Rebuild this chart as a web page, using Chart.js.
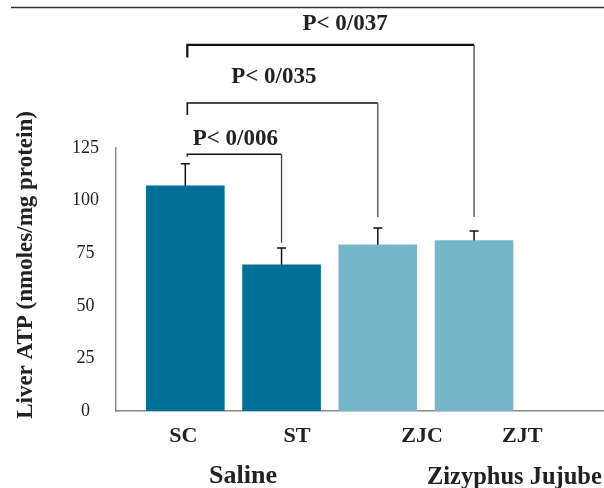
<!DOCTYPE html>
<html>
<head>
<meta charset="utf-8">
<script src="https://cdn.jsdelivr.net/npm/chart.js@4.4.1/dist/chart.umd.min.js"></script>
<style>
  html, body { margin: 0; padding: 0; background: #fff; }
  #wrap { width: 604px; height: 488px; }
</style>
</head>
<body>
<div id="wrap"><canvas id="chart"></canvas></div>
<script>
// data
const categories = ["SC", "ST", "ZJC", "ZJT"];
const atpMeans = [107, 69.5, 79, 81];
const atpErrors = [10.5, 8, 8, 4.5];
const groupLabels = ["Saline", "Zizyphus Jujube"];
const yTicks = [0, 25, 50, 75, 100, 125];
const pLabels = ["P< 0/006", "P< 0/035", "P< 0/037"];
const yTitle = "Liver ATP (nmoles/mg protein)";

const barColors = ["#007096", "#007096", "#76b6ca", "#76b6ca"];
const serif = "'Liberation Serif', 'DejaVu Serif', serif";

// where the texts and brackets sit, in axis units
const tickLabelX = [-0.02, 1.16, 2.46, 3.5];
const groupLabelX = [0.6, 2.51];
const brackets = [
  { from: 0, to: 1, level: 122, leftEnd: 121, rightEnd: 80, labelX: 0.52, labelY: 129.3 },
  { from: 0, to: 2, level: 146.4, leftEnd: 140.7, rightEnd: 92.2, labelX: 0.92, labelY: 158.7 },
  { from: 0, to: 3, level: 174, leftEnd: 168, rightEnd: 92.2, labelX: 1.66, labelY: 183.9 }
];

const extras = {
  id: "extras",
  afterDatasetsDraw(chart) {
    const ctx = chart.ctx;
    const xs = chart.scales.x;
    const ys = chart.scales.y;
    ctx.save();

    // top rule
    ctx.strokeStyle = "#333";
    ctx.lineWidth = 1.5;
    ctx.beginPath();
    ctx.moveTo(11, 7.5);
    ctx.lineTo(604, 7.5);
    ctx.stroke();

    // error bars (upper only)
    ctx.strokeStyle = "#111";
    ctx.lineWidth = 1.5;
    atpMeans.forEach((v, i) => {
      const x = xs.getPixelForValue(i);
      const y0 = ys.getPixelForValue(v);
      const y1 = ys.getPixelForValue(v + atpErrors[i]);
      ctx.beginPath();
      ctx.moveTo(x, y0);
      ctx.lineTo(x, y1);
      ctx.moveTo(x - 4.5, y1);
      ctx.lineTo(x + 4.5, y1);
      ctx.stroke();
    });

    // significance brackets
    ctx.fillStyle = "#222";
    ctx.font = "bold 23px " + serif;
    ctx.textAlign = "center";
    ctx.textBaseline = "middle";
    brackets.forEach((b, k) => {
      const xl = xs.getPixelForValue(b.from) + 2;
      const xr = xs.getPixelForValue(b.to);
      const yl = ys.getPixelForValue(b.level);
      ctx.strokeStyle = "#111";
      ctx.lineWidth = k === 2 ? 2.2 : 1.6;
      ctx.beginPath();
      ctx.moveTo(xl, ys.getPixelForValue(b.leftEnd));
      ctx.lineTo(xl, yl);
      ctx.lineTo(xr, yl);
      ctx.stroke();
      ctx.strokeStyle = "#444";
      ctx.lineWidth = 1.3;
      ctx.beginPath();
      ctx.moveTo(xr, yl);
      ctx.lineTo(xr, ys.getPixelForValue(b.rightEnd));
      ctx.stroke();
      ctx.fillText(pLabels[k], xs.getPixelForValue(b.labelX), ys.getPixelForValue(b.labelY));
    });

    // category labels
    ctx.font = "bold 22px " + serif;
    categories.forEach((c, i) => {
      ctx.fillText(c, xs.getPixelForValue(tickLabelX[i]), 436);
    });

    // group labels
    ctx.font = "bold 26px " + serif;
    ctx.fillText(groupLabels[0], xs.getPixelForValue(groupLabelX[0]), 476);
    ctx.textAlign = "left";
    ctx.font = "bold 24.5px " + serif;
    ctx.fillText(groupLabels[1], xs.getPixelForValue(groupLabelX[1]), 478);

    // y axis title
    ctx.save();
    ctx.translate(26, 265);
    ctx.rotate(-Math.PI / 2);
    ctx.textAlign = "center";
    ctx.font = "bold 23px " + serif;
    ctx.fillText(yTitle, 0, 0);
    ctx.restore();

    ctx.restore();
  }
};

new Chart(document.getElementById("chart"), {
  type: "bar",
  data: {
    datasets: [{
      label: "Liver ATP",
      data: categories.map((c, i) => ({ x: i, y: atpMeans[i] })),
      backgroundColor: barColors,
      borderWidth: 0,
      barThickness: 78
    }]
  },
  options: {
    responsive: true,
    maintainAspectRatio: false,
    animation: false,
    layout: { padding: { top: 148, left: 0, right: 0, bottom: 0 } },
    plugins: {
      legend: { display: false },
      tooltip: { enabled: false }
    },
    scales: {
      x: {
        type: "linear",
        offset: false,
        min: -0.72,
        max: 4.35,
        grid: { display: false, drawTicks: false },
        border: { color: "#8a8a8a", width: 1.5 },
        ticks: { display: false },
        afterFit: (s) => { s.height = 77; }
      },
      y: {
        min: 0,
        max: 125,
        afterBuildTicks: (s) => { s.ticks = yTicks.map(v => ({ value: v })); },
        grid: { display: false, drawTicks: false },
        border: { color: "#8a8a8a", width: 1.5 },
        ticks: {
          crossAlign: "center",
          padding: 17,
          color: "#222",
          font: { family: serif, size: 18 }
        },
        afterFit: (s) => { s.width = 116; }
      }
    }
  },
  plugins: [extras]
});
</script>
</body>
</html>
